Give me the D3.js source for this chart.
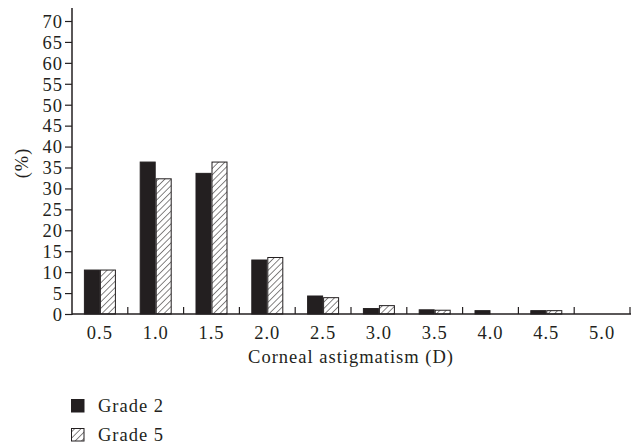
<!DOCTYPE html>
<html><head><meta charset="utf-8">
<script src="https://cdn.jsdelivr.net/npm/d3@7"></script>
<style>body{margin:0;background:#fff}svg{display:block}text{font-family:"Liberation Serif","DejaVu Serif",serif;fill:#231f20;letter-spacing:1px}</style>
</head><body>
<svg id="c" width="639" height="443"></svg>
<script>
const categories = ["0.5","1.0","1.5","2.0","2.5","3.0","3.5","4.0","4.5","5.0"];
const grade2 = [10.5, 36.3, 33.6, 12.9, 4.3, 1.3, 1.0, 0.8, 0.8, 0];
const grade5 = [10.5, 32.3, 36.3, 13.5, 3.9, 2.0, 0.9, 0, 0.8, 0];
const yTicks = [0,5,10,15,20,25,30,35,40,45,50,55,60,65,70];
const seriesNames = ["Grade 2","Grade 5"];

const svg = d3.select("#c");
const ink = "#231f20";
const FS = 18.5;
const defs = svg.append("defs");
const pat = defs.append("pattern").attr("id","hatch").attr("patternUnits","userSpaceOnUse")
  .attr("width",4.5).attr("height",4.5).attr("patternTransform","rotate(45)");
pat.append("rect").attr("width",4.5).attr("height",4.5).attr("fill","#fff");
pat.append("line").attr("x1",0).attr("y1",0).attr("x2",0).attr("y2",4.5).attr("stroke",ink).attr("stroke-width",1.1);

const x0 = 72, x1 = 630, yBase = 314, yTop70 = 21;
const x = d3.scaleBand().domain(categories).range([x0,x1]);
const y = d3.scaleLinear().domain([0,70]).range([yBase,yTop70]);
const xs = d3.scaleBand().domain(seriesNames).range([0,32]).padding(0);

// bars
const groups = svg.append("g").selectAll("g").data(categories).join("g")
  .attr("transform", d => `translate(${x(d)+x.bandwidth()/2-16},0)`);
groups.each(function(c,i){
  const g = d3.select(this);
  [grade2[i], grade5[i]].forEach((v,j)=>{
    if (v<=0) return;
    g.append("rect").attr("x", xs(seriesNames[j])+0.5).attr("y", y(v))
      .attr("width", xs.bandwidth()-1).attr("height", yBase - y(v))
      .attr("fill", j===0 ? ink : "url(#hatch)").attr("stroke", ink).attr("stroke-width",1);
  });
});

// y axis
const ya = svg.append("g").attr("transform",`translate(${x0},0)`)
  .call(d3.axisLeft(y).tickValues(yTicks).tickSize(7).tickPadding(2).tickFormat(d3.format("d")));
ya.select(".domain").remove();
ya.selectAll("line").attr("stroke",ink).attr("stroke-width",1.2);
ya.selectAll("text").attr("font-size",FS).attr("font-family","Liberation Serif").attr("fill",ink).attr("dy","0.34em");
svg.append("line").attr("x1",x0).attr("x2",x0).attr("y1",8).attr("y2",yBase+1).attr("stroke",ink).attr("stroke-width",1.5);

// x axis
svg.append("line").attr("x1",x0).attr("x2",x1+1).attr("y1",yBase).attr("y2",yBase).attr("stroke",ink).attr("stroke-width",1.5);
const bounds = categories.map(c => x(c)+x.bandwidth());
svg.append("g").selectAll("line").data(bounds).join("line")
  .attr("x1",d=>d).attr("x2",d=>d).attr("y1",yBase).attr("y2",yBase-7).attr("stroke",ink).attr("stroke-width",1.2);
svg.append("g").selectAll("text").data(categories).join("text")
  .attr("x", d=>x(d)+x.bandwidth()/2).attr("y",339).attr("text-anchor","middle")
  .attr("font-size",FS).text(d=>d);

svg.append("text").attr("x",351).attr("y",363).attr("text-anchor","middle").attr("font-size",FS)
  .text("Corneal astigmatism (D)");
svg.append("text").attr("transform","translate(28,163) rotate(-90)").attr("text-anchor","middle").attr("font-size",FS).text("(%)");

// legend
const leg = svg.append("g");
seriesNames.forEach((n,j)=>{
  const yy = 405.5 + j*29;
  leg.append("rect").attr("x",71.5).attr("y",yy-6).attr("width",12.5).attr("height",12.5)
    .attr("fill", j===0?ink:"url(#hatch)").attr("stroke",ink).attr("stroke-width",1);
  leg.append("text").attr("x",98).attr("y",yy+6).attr("font-size",FS).text(n);
});
</script>
</body></html>
